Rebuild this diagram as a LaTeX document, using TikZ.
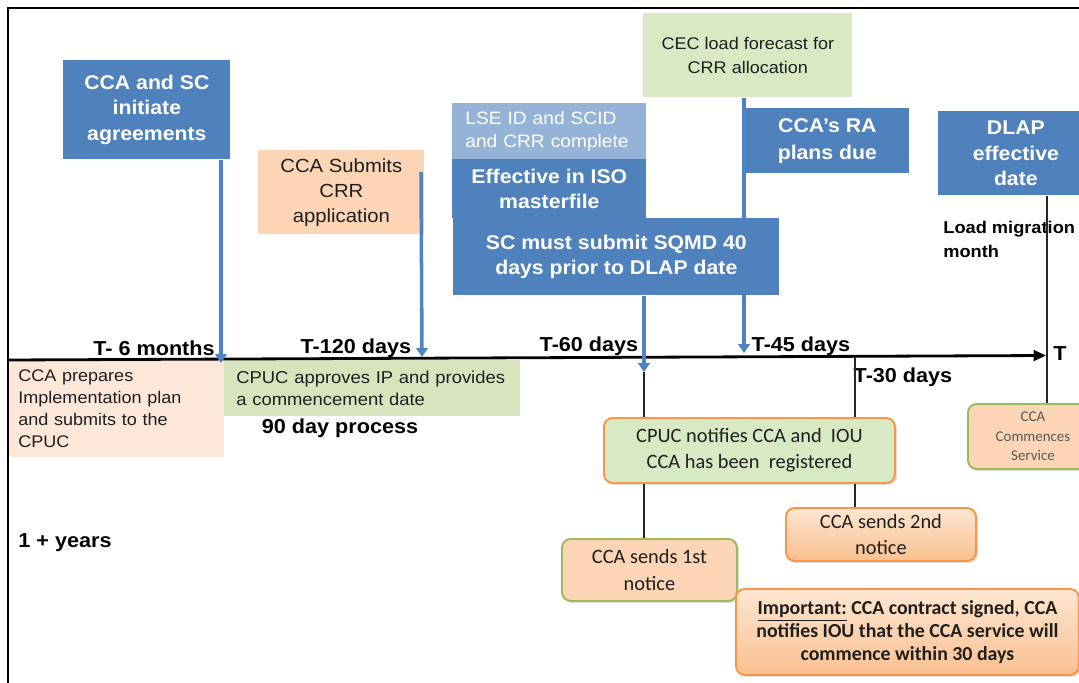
\documentclass[tikz,border=0pt]{standalone}
\usepackage{fontspec}
\setmainfont{Liberation Sans}[FakeStretch=1.07]
\newfontfamily\calib{Carlito}
\usetikzlibrary{arrows.meta,shadows}
\definecolor{boxblue}{HTML}{4F81BD}
\definecolor{arrowblue}{HTML}{4F83C4}
\definecolor{lightblue}{HTML}{95B3D7}
\definecolor{peach}{HTML}{FBD5B5}
\definecolor{lpeach}{HTML}{FDE7D8}
\definecolor{lgreen}{HTML}{D7E4BD}
\definecolor{cecgreen}{HTML}{D8E9C4}
\definecolor{notgreen}{HTML}{D7EAC4}
\definecolor{orangeb}{HTML}{F79646}
\definecolor{greenb}{HTML}{9BBB59}
\definecolor{darktext}{HTML}{1F1F1F}
\definecolor{gradtop}{HTML}{FDE6D2}
\definecolor{gradbot}{HTML}{FAC08F}
\newlength\pxu
\setlength\pxu{0.02cm}
\newcommand\fsz[2]{\fontsize{#1}{#2}\selectfont}
\begin{document}
\begin{tikzpicture}[x=0.02cm, y=-0.02cm,
  wh/.style 2 args={minimum width=#1\pxu, minimum height=#2\pxu},
  box/.style={inner sep=0pt, align=center, anchor=north west},
  bluebox/.style={box, fill=boxblue, text=white, font=\fsz{11.3pt}{14.4pt}\bfseries},
  plainbox/.style={box, text=darktext},
  rbox/.style={box, rounded corners=5pt, line width=1.1pt, text=darktext,
    drop shadow={shadow xshift=1.2pt, shadow yshift=-1.2pt, opacity=0.25}},
  tlabel/.style={inner sep=0pt, text=black, font=\fsz{11.5pt}{14pt}\bfseries},
  barrow/.style={draw=arrowblue, line width=2pt, -{Triangle[length=5pt,width=6.5pt]}},
  conn/.style={draw=black!85, line width=1pt},
  frame/.style={draw=black, line width=1.2pt},
]
\useasboundingbox (0,0) rectangle (1079,683);

% frame
\coordinate (fr0) at (8,683);
\coordinate (fr1) at (8,8);
\coordinate (fr2) at (1079,8);
\draw[frame] (fr0) -- (fr1) -- (fr2);

% coordinates
\coordinate (tlA) at (8,360);
\coordinate (tlB) at (1046,355.5);
\coordinate (a6) at (221,363);
\coordinate (b0) at (421,172);
\coordinate (b1) at (422,357);
\coordinate (c60) at (644,372);
\coordinate (d45) at (744,353);
\coordinate (e30) at (855,357);
\coordinate (fT) at (1047,0);

% CEC box and its arrow (drawn below the later boxes)
\node[plainbox, fill=cecgreen, wh={209}{84}, font=\fsz{9.6pt}{13.6pt}] (cec) at (643,13) {CEC load forecast for\\CRR allocation};
\draw[barrow] (cec.south -| d45) -- (d45);

% upper boxes
\node[bluebox, wh={167}{99}] (agree) at (63,60) {CCA and SC\\initiate\\agreements};
\node[plainbox, fill=peach, wh={166}{84}, font=\fsz{10.8pt}{14.2pt}] (crr) at (258,150) {CCA Submits\\CRR\\application};
\node[box, fill=lightblue, text=white, wh={194}{56}, text width=168\pxu, align=left, font=\fsz{10.2pt}{13.6pt}] (lse) at (452,103) {LSE ID and SCID\\and CRR complete};
\node[bluebox, wh={194}{59}] (iso) at (452,159) {Effective in ISO\\masterfile};
\node[bluebox, wh={326}{77}, font=\fsz{11.3pt}{14.7pt}\bfseries] (sqmd) at (453,218) {SC must submit SQMD 40\\days prior to DLAP date};
\node[bluebox, wh={163}{65}, font=\fsz{11.3pt}{15.3pt}\bfseries] (ra) at (745.5,108) {CCA’s RA\\plans due};
\node[bluebox, wh={155}{84}] (dlap) at (938,111) {DLAP\\effective\\date};

% lower boxes
\node[plainbox, fill=lpeach, wh={215}{97}, text width=197\pxu, align=left, font=\fsz{9.6pt}{12.5pt}] (impl) at (9,360) {CCA prepares\\Implementation plan\\and submits to the\\CPUC};
\node[plainbox, fill=lgreen, wh={296}{56}, text width=272\pxu, align=left, font=\fsz{9.8pt}{12.5pt}] (ipapp) at (224,360) {CPUC approves IP and provides\\a commencement date};

\node[rbox, fill=notgreen, draw=orangeb, wh={291}{65}, font=\calib\fsz{11.6pt}{14.7pt}] (notify) at (603,417) {CPUC notifies CCA and\ \ IOU\\CCA has\ been\ \ registered};
\node[rbox, top color=gradtop, bottom color=gradbot, draw=orangeb, wh={190}{53}, font=\calib\fsz{11.6pt}{15pt}] (second) at (785,507) {CCA sends 2nd\\notice};
\node[rbox, fill=peach, draw=greenb, wh={175}{62}, font=\calib\fsz{11.6pt}{15pt}] (first) at (561,538) {CCA sends 1st\\notice};
\node[rbox, top color=gradtop, bottom color=gradbot, draw=orangeb, wh={343}{86}, font=\calib\fsz{11.3pt}{13pt}\bfseries] (important) at (735,588) {\underline{Important:} CCA contract signed, CCA\\notifies IOU that the CCA service will\\commence within 30 days};
\node[rbox, fill=peach, draw=greenb, wh={130}{65}, font=\calib\fsz{8.5pt}{11pt}, text=black!65] (commence) at (967,403) {CCA\\Commences\\Service};

% labels
\node[tlabel] (t6) at (154,348) {T- 6 months};
\node[tlabel] (t120) at (356,348) {T-120 days};
\node[tlabel] (t60) at (589,346) {T-60 days};
\node[tlabel] (t45) at (801,346) {T-45 days};
\node[tlabel] (tT) at (1060,354) {T};
\node[tlabel] (t30) at (903,377) {T-30 days};
\node[tlabel] (ninety) at (340,428) {90 day process};
\node[tlabel] (years) at (65,543) {1 + years};
\node[tlabel, anchor=west, align=left, font=\fsz{9.7pt}{13.6pt}\bfseries] (loadm) at (943,239.5) {Load migration\\month};

% timeline
\draw[line width=1.6pt, -{Triangle[length=7pt,width=6pt]}] (tlA) -- (tlB);

% connectors
\draw[conn] (c60) -- (notify.north -| c60);
\draw[conn] (notify.south -| c60) -- (first.north -| c60);
\draw[conn] (e30) -- (notify.north -| e30);
\draw[conn] (notify.south -| e30) -- (second.north -| e30);
\draw[conn] (dlap.south -| fT) -- (commence.north -| fT);

\draw[barrow] (agree.south -| a6) -- (a6);
\draw[barrow] (b0) -- (b1);
\draw[barrow] (sqmd.south -| c60) -- (c60);
\end{tikzpicture}
\end{document}
